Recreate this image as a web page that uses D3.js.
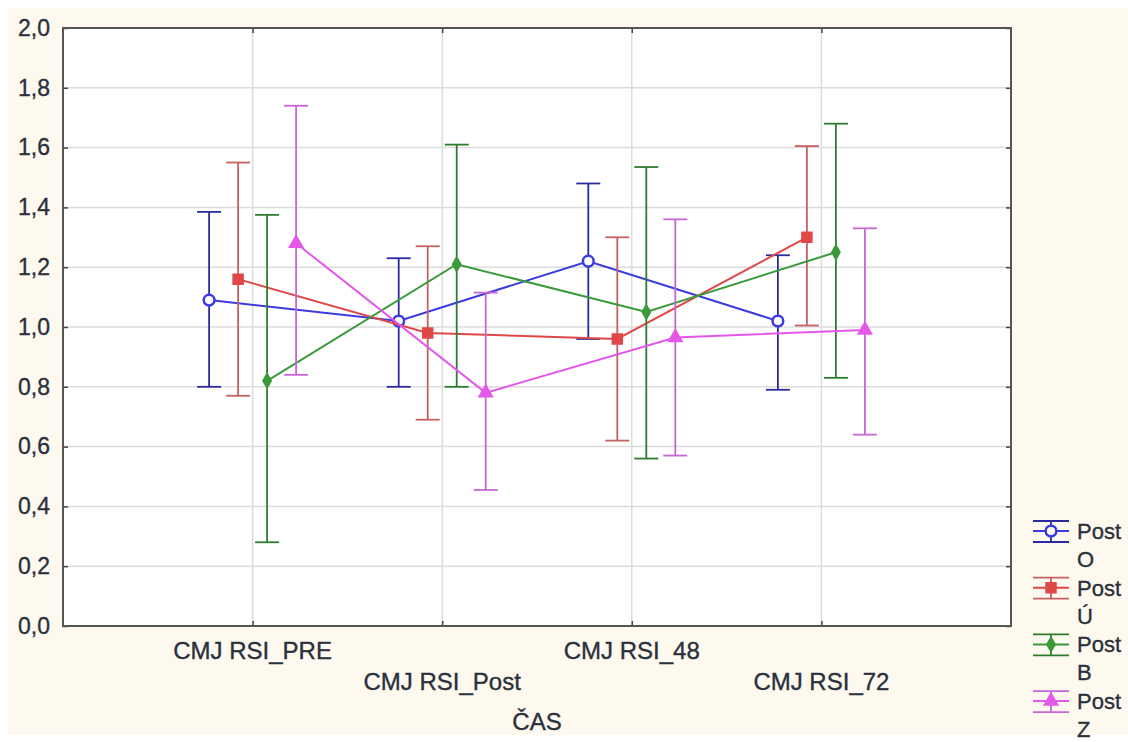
<!DOCTYPE html>
<html>
<head>
<meta charset="utf-8">
<script src="https://cdn.jsdelivr.net/npm/d3@7"></script>
<style>
  body { margin: 0; background: #fff; }
  svg { display: block; font-family: "Liberation Sans", Arial, sans-serif; }
  svg text { stroke: #2a303c; stroke-width: 0.35px; }
</style>
</head>
<body>
<div class="chart"></div>
<script>
const categories = ["CMJ RSI_PRE", "CMJ RSI_Post", "CMJ RSI_48", "CMJ RSI_72"];
const groups = ["Post O", "Post Ú", "Post B", "Post Z"];
const yTicks = [0, 0.2, 0.4, 0.6, 0.8, 1.0, 1.2, 1.4, 1.6, 1.8, 2.0];

const meanO = [1.09, 1.02, 1.22, 1.02];
const lowO  = [0.80, 0.80, 0.96, 0.79];
const highO = [1.385, 1.23, 1.48, 1.24];

const meanU = [1.16, 0.98, 0.96, 1.30];
const lowU  = [0.77, 0.69, 0.62, 1.005];
const highU = [1.55, 1.27, 1.30, 1.605];

const meanB = [0.82, 1.21, 1.05, 1.25];
const lowB  = [0.28, 0.80, 0.56, 0.83];
const highB = [1.375, 1.61, 1.535, 1.68];

const meanZ = [1.28, 0.78, 0.965, 0.99];
const lowZ  = [0.84, 0.455, 0.57, 0.64];
const highZ = [1.74, 1.115, 1.36, 1.33];

const series = [
  { name: "Post O", mean: meanO, low: lowO, high: highO, line: "#3b3be0", err: "#2b2b9e", symbol: "circle" },
  { name: "Post Ú", mean: meanU, low: lowU, high: highU, line: "#e04848", err: "#c46262", symbol: "square" },
  { name: "Post B", mean: meanB, low: lowB, high: highB, line: "#3a9a3a", err: "#2e7d2e", symbol: "diamond" },
  { name: "Post Z", mean: meanZ, low: lowZ, high: highZ, line: "#e458e8", err: "#c866d6", symbol: "triangle" }
];

const margin = { top: 28, left: 63, right: 117, bottom: 116 };
const W = 1128, H = 742;
const width = W - margin.left - margin.right;
const height = H - margin.top - margin.bottom;

const root = d3.select(".chart").append("svg")
  .attr("width", W)
  .attr("height", H);

// cream backdrop
root.append("rect")
  .attr("x", 8).attr("y", 8)
  .attr("width", W - 8).attr("height", H - 15)
  .attr("fill", "#fdf9ee");

const svg = root.append("g")
  .attr("transform", `translate(${margin.left}, ${margin.top})`);

const xScale = d3.scalePoint().domain(categories).range([0, width]).padding(1);
const offset = d3.scalePoint().domain(groups).range([-43.5, 43.5]);
const yScale = d3.scaleLinear().domain([0, 2]).range([height, 0]);

svg.append("rect")
  .attr("width", width).attr("height", height)
  .attr("fill", "#fff");

// grid
svg.append("g").selectAll("line")
  .data(yTicks.slice(1, -1))
  .join("line")
  .attr("x1", 0).attr("x2", width)
  .attr("y1", d => yScale(d)).attr("y2", d => yScale(d))
  .attr("stroke", "#dcdcdc").attr("stroke-width", 1.5);

svg.append("g").selectAll("line")
  .data(categories)
  .join("line")
  .attr("x1", d => xScale(d)).attr("x2", d => xScale(d))
  .attr("y1", 0).attr("y2", height)
  .attr("stroke", "#dcdcdc").attr("stroke-width", 1.5);

// axes with inside ticks
const fmt = d => d3.format(".1f")(d).replace(".", ",");
const axisStyle = g => {
  g.select(".domain").remove();
  g.selectAll(".tick line").attr("stroke", "#444").attr("stroke-width", 1.5);
};

svg.append("g")
  .call(d3.axisLeft(yScale).tickValues(yTicks).tickSize(-5).tickPadding(13).tickFormat(fmt))
  .call(axisStyle)
  .call(g => g.selectAll("text")
    .attr("font-size", 23).attr("fill", "#2a303c")
    .attr("font-family", "Liberation Sans, Arial, sans-serif"));

svg.append("g")
  .attr("transform", `translate(${width},0)`)
  .call(d3.axisRight(yScale).tickValues(yTicks).tickSize(-5).tickFormat(""))
  .call(axisStyle);

svg.append("g")
  .call(d3.axisTop(xScale).tickSize(-5).tickFormat(""))
  .call(axisStyle);

svg.append("g")
  .attr("transform", `translate(0,${height})`)
  .call(d3.axisBottom(xScale).tickSize(-5).tickFormat(""))
  .call(axisStyle);

// staggered category labels
svg.append("g").selectAll("text")
  .data(categories)
  .join("text")
  .attr("x", d => xScale(d))
  .attr("y", (d, i) => height + (i % 2 === 0 ? 33 : 64))
  .attr("text-anchor", "middle")
  .attr("font-size", 24)
  .attr("fill", "#2a303c")
  .text(d => d);

svg.append("text")
  .attr("x", width / 2)
  .attr("y", height + 104)
  .attr("text-anchor", "middle")
  .attr("font-size", 24)
  .attr("fill", "#2a303c")
  .text("ČAS");

// frame
svg.append("rect")
  .attr("width", width).attr("height", height)
  .attr("fill", "none")
  .attr("stroke", "#555").attr("stroke-width", 2);

const symbolType = {
  circle: d3.symbolCircle,
  square: d3.symbolSquare,
  diamond: d3.symbolDiamond,
  triangle: d3.symbolTriangle
};
const symbolSize = { circle: 90, square: 100, diamond: 60, triangle: 80 };

function drawMarker(sel, s) {
  sel.attr("d", d3.symbol().type(symbolType[s.symbol]).size(symbolSize[s.symbol])())
    .attr("fill", s.symbol === "circle" ? "#fff" : s.line)
    .attr("stroke", s.line)
    .attr("stroke-width", s.symbol === "circle" ? 2.5 : 1.5);
}

const cap = 12;

series.forEach(s => {
  const px = i => xScale(categories[i]) + offset(s.name);
  const g = svg.append("g");

  // error bars
  const eb = g.selectAll(".err")
    .data(categories.map((c, i) => i))
    .join("g")
    .attr("stroke", s.err)
    .attr("stroke-width", 1.8);
  eb.append("line")
    .attr("x1", px).attr("x2", px)
    .attr("y1", i => yScale(s.low[i])).attr("y2", i => yScale(s.high[i]));
  eb.append("line")
    .attr("x1", i => px(i) - cap).attr("x2", i => px(i) + cap)
    .attr("y1", i => yScale(s.low[i])).attr("y2", i => yScale(s.low[i]));
  eb.append("line")
    .attr("x1", i => px(i) - cap).attr("x2", i => px(i) + cap)
    .attr("y1", i => yScale(s.high[i])).attr("y2", i => yScale(s.high[i]));

  // mean line
  g.append("path")
    .datum(s.mean)
    .attr("fill", "none")
    .attr("stroke", s.line)
    .attr("stroke-width", 2)
    .attr("d", d3.line().x((d, i) => px(i)).y(d => yScale(d)));

  g.selectAll(".mk")
    .data(s.mean)
    .join("path")
    .attr("transform", (d, i) => `translate(${px(i)},${yScale(d)})`)
    .each(function () { drawMarker(d3.select(this), s); });
});

// legend
const legend = root.append("g");
series.forEach((s, k) => {
  const cy = 531 + k * 56.7;
  const g = legend.append("g");
  g.append("line").attr("x1", 1033).attr("x2", 1069).attr("y1", cy - 10).attr("y2", cy - 10)
    .attr("stroke", s.err).attr("stroke-width", 1.8);
  g.append("line").attr("x1", 1033).attr("x2", 1069).attr("y1", cy + 11).attr("y2", cy + 11)
    .attr("stroke", s.err).attr("stroke-width", 1.8);
  g.append("line").attr("x1", 1051).attr("x2", 1051).attr("y1", cy - 10).attr("y2", cy + 11)
    .attr("stroke", s.err).attr("stroke-width", 1.8);
  g.append("line").attr("x1", 1033).attr("x2", 1069).attr("y1", cy).attr("y2", cy)
    .attr("stroke", s.line).attr("stroke-width", 2);
  g.append("path")
    .attr("transform", `translate(1051,${cy})`)
    .call(sel => drawMarker(sel, s));
  const parts = s.name.split(" ");
  g.append("text").attr("x", 1077).attr("y", cy + 8)
    .attr("font-size", 22).attr("fill", "#2a303c").text(parts[0]);
  g.append("text").attr("x", 1077).attr("y", cy + 36)
    .attr("font-size", 22).attr("fill", "#2a303c").text(parts[1]);
});
</script>
</body>
</html>
